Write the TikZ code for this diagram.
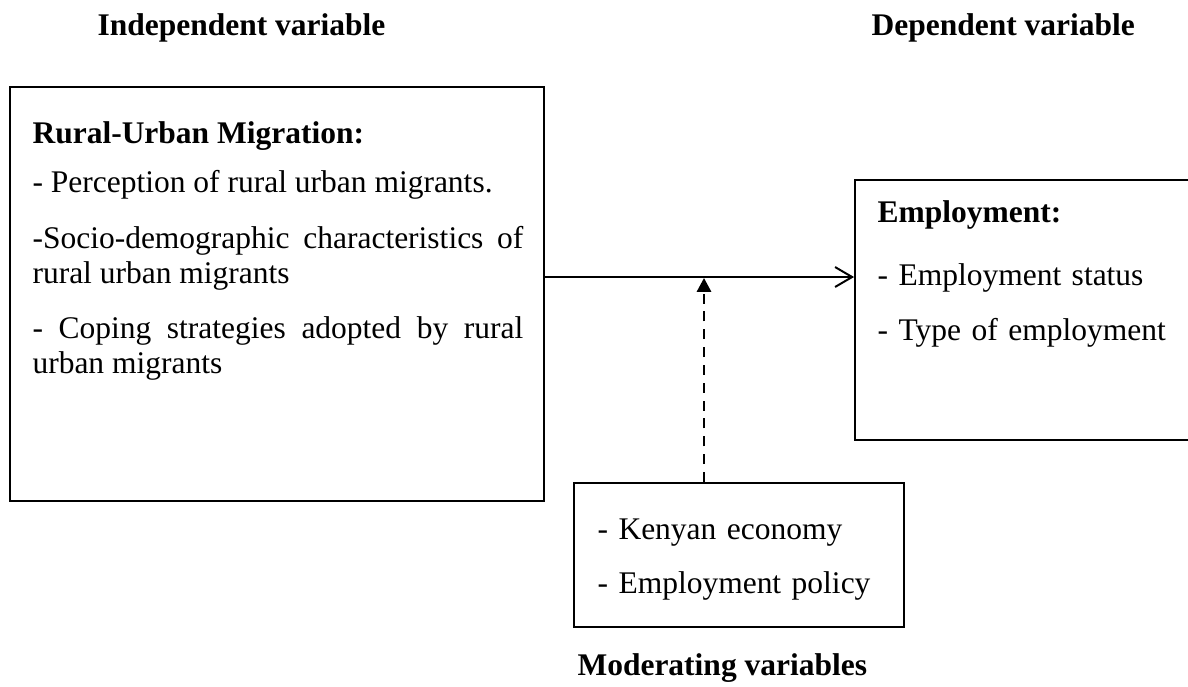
\documentclass[tikz,border=0pt]{standalone}
\usepackage{fontspec}
\setmainfont{Liberation Serif}
\usetikzlibrary{arrows.meta}

\begin{document}
\begin{tikzpicture}[x=0.381pt, y=-0.381pt]
\tikzset{box/.style = {draw, line width=0.75pt, inner sep=0pt},
         boxtext/.style = {inner sep=0pt, anchor=base west,
                           font=\fontsize{12}{13.2}\selectfont},
         heading/.style = {boxtext, font=\fontsize{12}{13.2}\selectfont\bfseries}
  }
\useasboundingbox (0,0) rectangle (1188,686);
\clip (0,0) rectangle (1188,686);

\node[heading] (ivhead) at (97,35) {Independent variable};
\node[heading] (dvhead) at (871,35) {Dependent variable};
\node[heading] (mvhead) at (577,675) {Moderating variables};
%-----------------------------
\node[box, minimum width=203.5pt, minimum height=157.7pt] (migbox) at (277,294) {};
\node[box, minimum width=131.4pt, minimum height=99.1pt] (empbox) at (1027.5,310) {};
\node[box, minimum width=125.7pt, minimum height=54.9pt] (modbox) at (739,555) {};
%-----------------------------
\node[boxtext, text width=187pt, align=justify] (migtext) at (32,143)
  {\tolerance=9999\relax
   \textbf{Rural-Urban Migration:}\\[5.8pt]
   - Perception of rural urban migrants.\\[8pt]
   -Socio-demographic characteristics of\linebreak rural urban migrants\\[8pt]
   - Coping strategies adopted by rural\linebreak urban migrants};
\node[boxtext, text width=120pt, align=left] (emptext) at (877,222)
  {\textbf{Employment:}\\[10.8pt]
   - Employment status\\[7.8pt]
   - Type of employment};
\node[boxtext, text width=110pt, align=left] (modtext) at (597,539)
  {- Kenyan economy\\[7.4pt]
   - Employment policy};
%-----------------------------
\tikzset{flow/.style = {-{Straight Barb[length=6.5pt, width=7.6pt]}, line width=0.75pt},
         moderate/.style = {-{Triangle[length=5.3pt, width=5.5pt]}, line width=0.75pt,
                            dash pattern=on 3.8pt off 3pt}
  }
\coordinate (tap) at (704,277);
\draw[flow] (migbox.east |- tap) -- (tap -| empbox.west);
\draw[moderate] (tap |- modbox.north) -- ([yshift=-0.4pt]tap);

\end{tikzpicture}
\end{document}
